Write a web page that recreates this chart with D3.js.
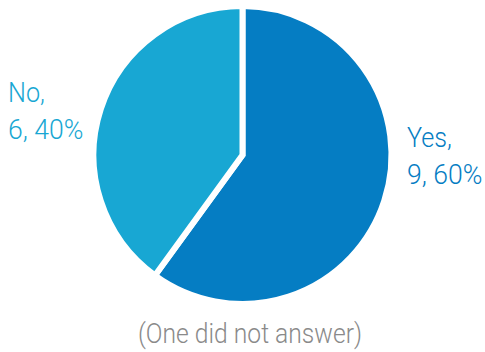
<!DOCTYPE html>
<html lang="en">
<head>
    <meta charset="UTF-8">
    <title>D3.js pie</title>
    <script src="https://cdn.jsdelivr.net/npm/d3@7"></script>
    <style>
        body { margin: 0; background: #fff; }
        .lbl { font-family: "Roboto", sans-serif; font-size: 28px; font-weight: 300; }
    </style>
</head>
<body>
    <svg width="485" height="352"></svg>
    <script>
        const categories = ["Yes", "No"];
        const counts = [9, 6];
        const colors = ["#057dc3", "#18a7d3"];
        const note = "(One did not answer)";

        const svg = d3.select("svg");
        const cx = 242.5, cy = 155, r = 149;
        const total = d3.sum(counts);

        const pie = d3.pie().sort(null).value(d => d)(counts);
        const arc = d3.arc().innerRadius(0).outerRadius(r);

        const g = svg.append("g").attr("transform", `translate(${cx},${cy})`);
        g.selectAll("path")
            .data(pie)
            .enter()
            .append("path")
            .attr("d", arc)
            .attr("fill", (d, i) => colors[i])
            .attr("stroke", "#fff")
            .attr("stroke-width", 6)
            .attr("stroke-linejoin", "miter");

        // the original face is condensed, so squeeze roboto with textLength
        function squeeze(sel, k) {
            const w = sel.node().getComputedTextLength();
            sel.attr("textLength", w * k).attr("lengthAdjust", "spacingAndGlyphs");
        }

        const labelPos = [
            { x: 407, y: 147 },
            { x: 8, y: 102 }
        ];
        categories.forEach((c, i) => {
            const t = svg.append("text")
                .attr("class", "lbl")
                .attr("y", labelPos[i].y)
                .attr("fill", colors[i]);
            t.append("tspan").attr("x", labelPos[i].x).text(c + ",").call(squeeze, 0.9);
            t.append("tspan").attr("x", labelPos[i].x).attr("dy", 37)
                .text(`${counts[i]}, ${Math.round(counts[i] / total * 100)}%`).call(squeeze, 0.95);
        });

        svg.append("text")
            .attr("class", "lbl")
            .attr("x", 138)
            .attr("y", 343)
            .attr("fill", "#8a8a8a")
            .text(note)
            .call(squeeze, 0.88);
    </script>
</body>
</html>
